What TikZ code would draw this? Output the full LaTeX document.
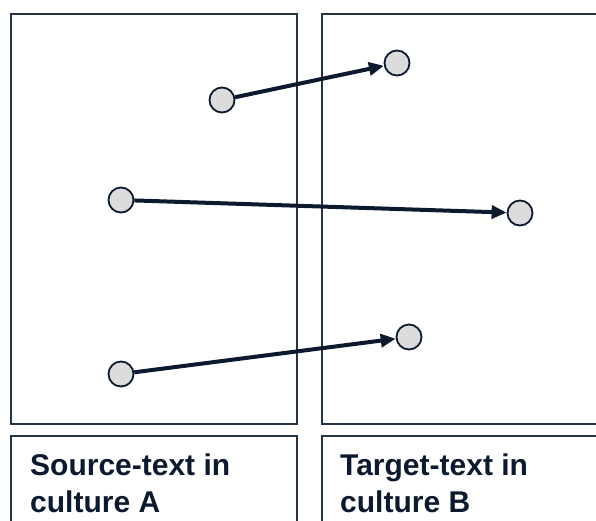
\documentclass[tikz,border=0pt]{standalone}
\usepackage{fontspec}
\setmainfont{Liberation Sans}
\usepackage{xcolor}
\usepackage{tikz}
\usetikzlibrary{arrows.meta}
\definecolor{navy}{HTML}{0B1A2E}
\definecolor{frame}{HTML}{253445}
\definecolor{dot}{HTML}{DCDCDC}
\tikzset{dot node/.style={circle,draw=navy,fill=dot,line width=1.8pt,minimum size=25pt,inner sep=0pt},
            panel/.style={draw=frame,line width=1.5pt},
            label text/.style={anchor=base west,align=left,inner sep=0pt,text=navy,font=\fontsize{30}{37}\selectfont\bfseries},
            link/.style={draw=navy,line width=4pt,-{Triangle[length=15pt,width=13pt]}},
            }
\begin{document}
\begin{tikzpicture}[x=1pt,y=-1pt]
				\clip (0,0) rectangle (596,520);
				\fill[white] (0,0) rectangle (596,520);
				% panels
				\draw[panel] (11,14) rectangle (297,424);
				\draw[panel] (322,14) rectangle (620,424);
				\draw[panel] (11,436) rectangle (297,540);
				\draw[panel] (322,436) rectangle (620,540);
				
				\node[label text] (srcA) at (30,475) {Source-text in};
				\node[label text] (srcB) at (30,512) {culture A};
				\node[label text] (tgtA) at (340,475) {Target-text in};
				\node[label text] (tgtB) at (340,512) {culture B};
				
				\node[dot node] (S1) at (222,100) {};
				\node[dot node] (S2) at (121,200) {};
				\node[dot node] (S3) at (121,374) {};
				\node[dot node] (T1) at (397,63) {};
				\node[dot node] (T2) at (520,213) {};
				\node[dot node] (T3) at (409,337) {};
				
				\draw[link] (S1) to (T1);
				\draw[link] (S2) to (T2);
				\draw[link] (S3) to (T3);
			\end{tikzpicture}
\end{document}
